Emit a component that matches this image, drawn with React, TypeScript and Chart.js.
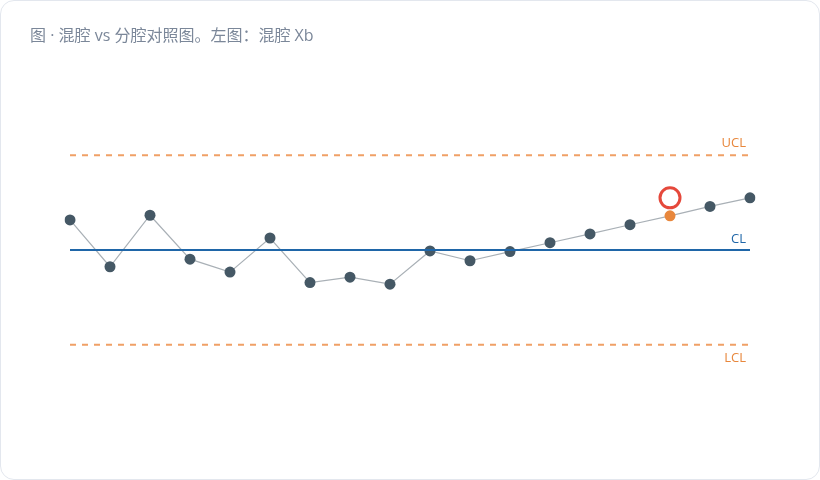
import { useEffect, useRef } from 'react'
import { Chart, registerables } from 'chart.js'

Chart.register(...registerables)

// subgroup means (Xb), mixed-cavity sampling
const samples = ['1', '2', '3', '4', '5', '6', '7', '8', '9', '10', '11', '12', '13', '14', '15', '16', '17', '18']
const xbar = [50.95, 49.47, 51.1, 49.71, 49.3, 50.38, 48.97, 49.14, 48.92, 49.97, 49.66, 49.95, 50.23, 50.51, 50.8, 51.08, 51.38, 51.65]
const flagged = [15]

const CL = 50
const UCL = 53
const LCL = 47

const FONT = '"Open Sans", "Noto Sans CJK SC", sans-serif'
const ORANGE = '#e8873c'
const BLUE = '#1f66a8'

const limitLabels = {
  id: 'limitLabels',
  afterDatasetsDraw(chart: Chart) {
    const { ctx, chartArea, scales } = chart
    const y = scales.y
    ctx.save()
    ctx.font = `13px ${FONT}`
    ctx.textAlign = 'right'
    const right = chartArea.right - 4
    ctx.fillStyle = ORANGE
    ctx.textBaseline = 'bottom'
    ctx.fillText('UCL', right, y.getPixelForValue(UCL) - 5)
    ctx.fillStyle = BLUE
    ctx.fillText('CL', right, y.getPixelForValue(CL) - 4)
    ctx.fillStyle = ORANGE
    ctx.textBaseline = 'top'
    ctx.fillText('LCL', right, y.getPixelForValue(LCL) + 7)

    // ring above the flagged points
    const meta = chart.getDatasetMeta(3)
    ctx.strokeStyle = '#e5483b'
    ctx.lineWidth = 3
    flagged.forEach(i => {
      const pt = meta.data[i]
      if (!pt) return
      ctx.beginPath()
      ctx.arc(pt.x, pt.y - 18, 10, 0, Math.PI * 2)
      ctx.stroke()
    })
    ctx.restore()
  }
}

function ControlChart() {
  const chartRef = useRef<HTMLCanvasElement>(null)

  useEffect(() => {
    if (!chartRef.current) return
    const ctx = chartRef.current.getContext('2d')
    if (!ctx) return

    const flat = (v: number) => samples.map(() => v)

    const chart = new Chart(ctx, {
      type: 'line',
      data: {
        labels: samples,
        datasets: [
          {
            label: 'UCL',
            data: flat(UCL),
            borderColor: '#f0a066',
            borderWidth: 2,
            borderDash: [6, 6],
            pointRadius: 0
          },
          {
            label: 'LCL',
            data: flat(LCL),
            borderColor: '#f0a066',
            borderWidth: 2,
            borderDash: [6, 6],
            pointRadius: 0
          },
          {
            label: 'CL',
            data: flat(CL),
            borderColor: BLUE,
            borderWidth: 2,
            pointRadius: 0
          },
          {
            label: 'Xb',
            data: xbar,
            borderColor: '#a9b0b6',
            borderWidth: 1.2,
            pointRadius: 5.5,
            pointBorderWidth: 0,
            pointBackgroundColor: xbar.map((_, i) => (flagged.includes(i) ? ORANGE : '#455865')),
            pointBorderColor: xbar.map((_, i) => (flagged.includes(i) ? ORANGE : '#455865'))
          }
        ]
      },
      options: {
        animation: false,
        responsive: false,
        layout: { padding: { left: 69, right: 69, top: 91, bottom: 71 } },
        scales: {
          x: { display: false, offset: false },
          y: { display: false, min: 45, max: 55 }
        },
        plugins: {
          legend: { display: false },
          tooltip: { enabled: false }
        }
      },
      plugins: [limitLabels]
    })

    return () => chart.destroy()
  }, [])

  return <canvas ref={chartRef} width={818} height={478} style={{ display: 'block' }} />
}

export default function App() {
  useEffect(() => {
    document.body.style.margin = '0'
  }, [])

  return (
    <div
      style={{
        position: 'relative',
        width: 820,
        height: 480,
        boxSizing: 'border-box',
        border: '1px solid #e3e7ee',
        borderRadius: 14,
        background: '#fff',
        overflow: 'hidden'
      }}
    >
      <div
        style={{
          position: 'absolute',
          left: 29,
          top: 21,
          fontFamily: FONT,
          fontSize: 16,
          color: '#7b8799',
          whiteSpace: 'nowrap'
        }}
      >
        图 · 混腔 vs 分腔对照图。左图：混腔 Xb
      </div>
      <ControlChart />
    </div>
  )
}
